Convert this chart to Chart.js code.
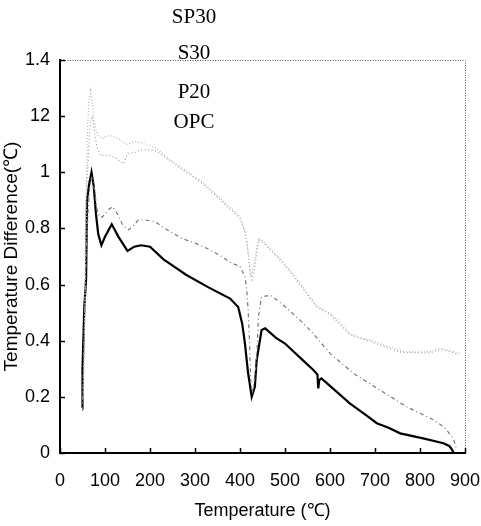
<!DOCTYPE html>
<html>
<head>
<meta charset="utf-8">
<script src="https://cdn.jsdelivr.net/npm/chart.js@4/dist/chart.umd.min.js"></script>
<style>
  html, body { margin: 0; padding: 0; background: #fff; }
  #wrap { width: 481px; height: 526px; position: relative; }
</style>
</head>
<body>
<div id="wrap"><canvas id="dtaChart"></canvas></div>
<script>
// series names (legend order, top to bottom)
const seriesNames = ['SP30', 'S30', 'P20', 'OPC'];

// SP30
const tempSP30 = [52, 55, 58, 61, 64, 68, 72, 76, 80, 85, 95, 105, 115, 130, 148, 167, 190, 215, 240, 267, 290, 315, 344, 367, 385, 400, 407, 411, 415, 418, 422, 425, 430, 436, 441, 452, 463, 485, 511, 540, 570, 585, 600, 620, 644, 665, 689, 718, 740, 760, 790, 822, 835, 848, 865, 880, 889];
const diffSP30 = [0.2, 0.5, 0.9, 1.15, 1.25, 1.29, 1.24, 1.18, 1.15, 1.13, 1.12, 1.13, 1.13, 1.12, 1.1, 1.11, 1.1, 1.085, 1.05, 1.02, 0.995, 0.967, 0.925, 0.89, 0.865, 0.842, 0.81, 0.79, 0.76, 0.72, 0.66, 0.63, 0.66, 0.72, 0.765, 0.755, 0.735, 0.70, 0.652, 0.59, 0.525, 0.51, 0.498, 0.47, 0.426, 0.41, 0.403, 0.385, 0.375, 0.361, 0.36, 0.361, 0.37, 0.373, 0.365, 0.358, 0.355];

// S30
const tempS30 = [51, 54, 57, 60, 64, 68, 72, 76, 82, 90, 100, 110, 125, 141, 150, 165, 180, 200, 215, 240, 267, 290, 315, 344, 367, 385, 400, 407, 411, 415, 418, 422, 426, 431, 437, 442, 452, 463, 485, 511, 540, 570, 600, 644, 689, 718, 760, 822, 848, 870, 886];
const diffS30 = [0.18, 0.4, 0.7, 0.95, 1.1, 1.18, 1.2, 1.15, 1.09, 1.06, 1.06, 1.06, 1.05, 1.03, 1.067, 1.07, 1.08, 1.08, 1.075, 1.045, 1.015, 0.99, 0.962, 0.92, 0.885, 0.86, 0.836, 0.805, 0.785, 0.75, 0.71, 0.65, 0.61, 0.64, 0.71, 0.76, 0.75, 0.73, 0.695, 0.647, 0.585, 0.52, 0.494, 0.422, 0.398, 0.38, 0.358, 0.357, 0.368, 0.36, 0.35];

// P20
const tempP20 = [50, 52, 55, 58, 62, 66, 70, 74, 78, 82, 88, 93, 100, 110, 118, 128, 140, 152, 163, 174, 190, 211, 233, 270, 311, 348, 378, 400, 411, 415, 418, 421, 424, 428, 433, 437, 441, 448, 460, 470, 496, 533, 559, 600, 652, 711, 770, 830, 855, 874, 880];
const diffP20 = [0.15, 0.3, 0.5, 0.7, 0.85, 0.95, 0.98, 0.97, 0.92, 0.87, 0.84, 0.84, 0.85, 0.87, 0.877, 0.85, 0.81, 0.795, 0.81, 0.83, 0.83, 0.824, 0.80, 0.765, 0.741, 0.711, 0.68, 0.664, 0.628, 0.58, 0.51, 0.4, 0.25, 0.22, 0.27, 0.34, 0.486, 0.557, 0.56, 0.56, 0.527, 0.474, 0.432, 0.355, 0.284, 0.224, 0.165, 0.118, 0.09, 0.052, 0.02];

// OPC
const tempOPC = [49, 50, 52, 54, 58, 60, 65, 70, 75, 80, 85, 92, 100, 115, 130, 150, 165, 180, 200, 230, 280, 330, 378, 396, 405, 411, 418, 426, 433, 437, 448, 456, 480, 500, 540, 563, 572, 574, 576, 581, 610, 644, 680, 704, 730, 756, 807, 852, 865, 870, 875, 880];
const diffOPC = [0.16, 0.3, 0.41, 0.52, 0.62, 0.9, 0.96, 1.0, 0.95, 0.85, 0.78, 0.74, 0.77, 0.815, 0.77, 0.72, 0.735, 0.74, 0.735, 0.69, 0.635, 0.59, 0.55, 0.52, 0.46, 0.39, 0.285, 0.2, 0.236, 0.33, 0.438, 0.444, 0.41, 0.39, 0.33, 0.296, 0.28, 0.23, 0.26, 0.266, 0.225, 0.177, 0.135, 0.106, 0.09, 0.07, 0.052, 0.035, 0.025, 0.015, 0.0, 0.0];

// axis ticks as printed
const xTicks = [0, 100, 200, 300, 400, 500, 600, 700, 800, 900];
const yTicks = [0, 0.2, 0.4, 0.6, 0.8, 1, 1.2, 1.4];
const yTickLabels = ['0', '0.2', '0.4', '0.6', '0.8', '1', '12', '1.4'];

function pts(xs, ys) {
  return xs.map((x, i) => ({ x: x, y: ys[i] }));
}

const SANS = "'Liberation Sans Narrow', 'Liberation Sans', Arial, sans-serif";

// frame: dotted top/right, inward tick marks, legend text
const framePlugin = {
  id: 'frame',
  afterDraw(chart) {
    const ctx = chart.ctx;
    const a = chart.chartArea;
    const xs = chart.scales.x, ys = chart.scales.y;
    ctx.save();
    ctx.strokeStyle = '#555';
    ctx.lineWidth = 1;
    ctx.setLineDash([1, 1.5]);
    ctx.beginPath();
    ctx.moveTo(a.left, a.top + 0.5);
    ctx.lineTo(a.right + 0.5, a.top + 0.5);
    ctx.lineTo(a.right + 0.5, a.bottom);
    ctx.stroke();
    ctx.setLineDash([]);
    ctx.strokeStyle = '#000';
    ctx.lineWidth = 1.5;
    xTicks.forEach(v => {
      const px = Math.round(xs.getPixelForValue(v)) + 0.5;
      ctx.beginPath();
      ctx.moveTo(px, a.bottom);
      ctx.lineTo(px, a.bottom - 5);
      ctx.stroke();
    });
    yTicks.forEach(v => {
      const py = Math.round(ys.getPixelForValue(v)) + 0.5;
      ctx.beginPath();
      ctx.moveTo(a.left, py);
      ctx.lineTo(a.left + 5, py);
      ctx.stroke();
    });
    // legend labels
    ctx.fillStyle = '#000';
    ctx.font = "21px 'Liberation Serif', 'Times New Roman', serif";
    ctx.textAlign = 'center';
    ctx.textBaseline = 'middle';
    const legendY = [17, 53, 92, 122];
    seriesNames.forEach((n, i) => ctx.fillText(n, 194, legendY[i]));
    ctx.restore();
  }
};

const ctx = document.getElementById('dtaChart').getContext('2d');

const dtaChart = new Chart(ctx, {
  type: 'line',
  data: {
    datasets: [
      {
        label: seriesNames[0],
        data: pts(tempSP30, diffSP30),
        borderColor: '#b8b8b8',
        borderWidth: 1.2,
        borderDash: [1, 2]
      },
      {
        label: seriesNames[1],
        data: pts(tempS30, diffS30),
        borderColor: '#a0a0a0',
        borderWidth: 1.2,
        borderDash: [1, 2.5]
      },
      {
        label: seriesNames[2],
        data: pts(tempP20, diffP20),
        borderColor: '#777',
        borderWidth: 1.2,
        borderDash: [4, 3, 1, 3]
      },
      {
        label: seriesNames[3],
        data: pts(tempOPC, diffOPC),
        borderColor: '#000',
        borderWidth: 2.2
      }
    ]
  },
  options: {
    responsive: true,
    maintainAspectRatio: false,
    animation: false,
    elements: { point: { radius: 0 }, line: { tension: 0 } },
    layout: { padding: { top: 60, right: 16, left: 0, bottom: 0 } },
    scales: {
      x: {
        type: 'linear',
        min: 0,
        max: 900,
        afterFit(s) {
          s.height = 73;
          s.paddingLeft = 0;
          s.paddingRight = 0;
        },
        afterBuildTicks(s) { s.ticks = xTicks.map(v => ({ value: v })); },
        grid: { display: false, drawTicks: false },
        border: { display: true, color: '#000', width: 2 },
        ticks: {
          color: '#000',
          padding: 17,
          maxRotation: 0,
          font: { family: SANS, size: 18 }
        },
        title: {
          display: true,
          text: 'Temperature (℃)',
          color: '#000',
          padding: { top: 0, bottom: 4 },
          font: { family: SANS, size: 18 }
        }
      },
      y: {
        min: 0,
        max: 1.4,
        afterFit(s) {
          s.width = 60;
          s.paddingTop = 0;
          s.paddingBottom = 0;
        },
        afterBuildTicks(s) { s.ticks = yTicks.map(v => ({ value: v })); },
        grid: { display: false, drawTicks: false },
        border: { display: true, color: '#000', width: 2 },
        ticks: {
          color: '#000',
          padding: 10,
          font: { family: SANS, size: 18 },
          callback: (v) => {
            const i = yTicks.findIndex(t => Math.abs(t - v) < 1e-6);
            return i >= 0 ? yTickLabels[i] : '';
          }
        },
        title: {
          display: true,
          text: 'Temperature Difference(℃)',
          color: '#000',
          padding: { top: 0, bottom: 0 },
          font: { family: SANS, size: 19 }
        }
      }
    },
    plugins: {
      legend: { display: false },
      tooltip: { enabled: false }
    }
  },
  plugins: [framePlugin]
});
</script>
</body>
</html>
